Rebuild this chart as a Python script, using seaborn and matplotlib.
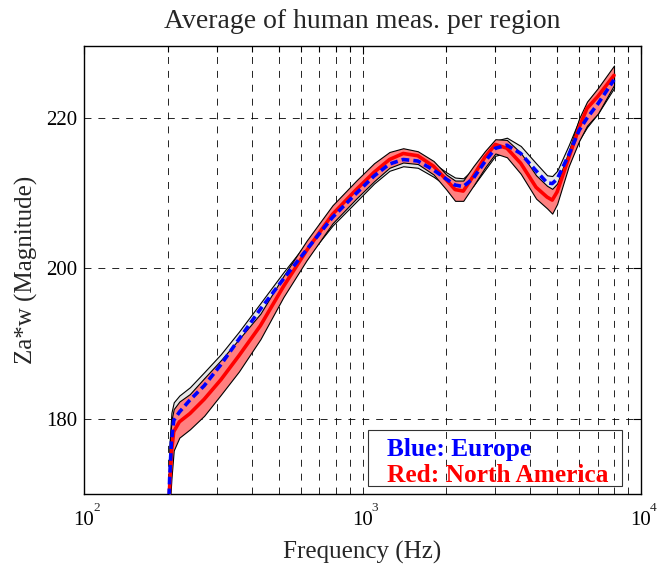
import numpy as np
import pandas as pd
import matplotlib
matplotlib.use("Agg")
import matplotlib.pyplot as plt
import seaborn as sns
from matplotlib.lines import Line2D
from matplotlib.patches import Rectangle
from matplotlib.ticker import FixedLocator, FuncFormatter, NullFormatter
from matplotlib.transforms import blended_transform_factory, offset_copy

# Frequency grid (Hz)
freq_hz = [200, 203, 206, 210, 220, 240, 270, 310, 360, 430, 520, 630, 780, 950,
           1100, 1250, 1400, 1580, 1800, 2000, 2150, 2300, 2500, 2750, 3000, 3300,
           3700, 4200, 4600, 4800, 5000, 5500, 6000, 6400, 7000, 8000]

# Europe: mean and spread
eu_mean = [165, 172, 177, 179.8, 180.9, 182.5, 184.4, 187.2, 190.6, 194.6, 198.6, 202.5,
           206.8, 210.0, 212.3, 213.9, 214.5, 214.3, 213.1, 211.9, 211.1, 210.9, 212.0,
           214.2, 216.0, 216.4, 215.3, 213.0, 211.4, 211.3, 211.9, 215.1, 218.4, 220.0,
           221.9, 225.1]
eu_high = [165, 177, 180.8, 182.2, 183.1, 184.2, 186.2, 188.6, 191.6, 195.4, 199.5, 203.4,
           207.7, 210.9, 213.2, 214.8, 215.4, 215.2, 214.0, 212.8, 212.1, 212.0, 213.2,
           215.3, 217.0, 217.4, 216.3, 214.0, 212.4, 212.3, 213.0, 216.4, 219.8, 221.4,
           223.0, 226.1]
eu_low = [165, 169.5, 174.5, 177.8, 179.0, 180.6, 182.5, 185.6, 189.2, 193.4, 197.5, 201.4,
          205.7, 208.9, 211.3, 213.0, 213.6, 213.4, 212.2, 211.0, 210.2, 210.0, 211.0,
          213.1, 215.0, 215.4, 214.2, 212.0, 210.4, 210.3, 210.8, 213.9, 217.1, 218.8,
          220.6, 224.0]

# North America: mean and spread
na_mean = [165, 171, 175.5, 178.3, 179.6, 180.7, 182.6, 185.2, 188.4, 192.4, 197.6, 202.4,
           207.2, 210.5, 212.8, 214.5, 215.3, 215.0, 213.6, 211.8, 210.5, 210.3, 212.3,
           214.8, 216.5, 216.0, 214.0, 210.8, 209.5, 209.1, 210.2, 214.7, 218.8, 221.3,
           222.9, 225.7]
na_high = [165, 176, 179.8, 181.3, 182.3, 183.3, 185.4, 187.8, 190.6, 194.0, 199.0, 203.7,
           208.4, 211.7, 214.0, 215.5, 216.0, 215.6, 214.3, 212.5, 211.7, 211.7, 213.6,
           215.6, 217.2, 217.1, 215.4, 212.4, 211.0, 210.6, 211.3, 215.6, 220.0, 222.2,
           224.0, 227.0]
na_low = [165, 168, 172, 175.8, 177.5, 178.6, 180.4, 183.2, 186.3, 190.6, 196.2, 201.1,
          206.0, 209.3, 211.6, 213.4, 214.1, 213.9, 212.5, 210.5, 209.0, 209.0, 211.0,
          213.4, 215.3, 214.8, 212.6, 209.3, 208.0, 207.3, 208.6, 213.6, 217.0, 219.0,
          220.6, 224.4]

y_ticks = [180, 200, 220]
x_major = [100, 1000, 10000]
legend_labels = ["Blue: Europe", "Red: North America"]

sns.set_style("white")
plt.rcParams["font.family"] = ["Liberation Serif", "DejaVu Serif"]
plt.rcParams["lines.scale_dashes"] = False

W, H = 659, 568
AX_L, AX_R, AX_T, AX_B = 84, 641, 46, 494
fig = plt.figure(figsize=(W / 100, H / 100), dpi=100)
ax = fig.add_axes([AX_L / W, (H - AX_B) / H, (AX_R - AX_L) / W, (AX_B - AX_T) / H])

df = pd.DataFrame({"freq": freq_hz, "eu": eu_mean, "na": na_mean})

ax.fill_between(freq_hz, eu_low, eu_high, facecolor="#e6e6e6", edgecolor="black",
                linewidth=0.8, zorder=2)
ax.fill_between(freq_hz, na_low, na_high, facecolor="#ff8080", edgecolor="black",
                linewidth=0.8, zorder=3)
sns.lineplot(data=df, x="freq", y="na", ax=ax, color="red", linewidth=2.6, zorder=4)
sns.lineplot(data=df, x="freq", y="eu", ax=ax, color="blue", linewidth=2.6,
             linestyle=(0, (5.5, 3)), zorder=5)

ax.set_xscale("log")
ax.set_xlim(100, 10000)
ax.set_ylim(170, 229.6)
ax.set_yticks(y_ticks)
ax.yaxis.set_minor_locator(FixedLocator([]))
ax.xaxis.set_major_locator(FixedLocator(x_major))
ax.xaxis.set_minor_locator(FixedLocator(
    [m * d for d in (100, 1000) for m in range(2, 10)]))
ax.xaxis.set_minor_formatter(NullFormatter())
ax.xaxis.set_major_formatter(FuncFormatter(lambda v, p: "10"))

grid_kw = dict(color="black", linewidth=0.6, linestyle=(0, (5, 5)))
ax.grid(True, which="both", axis="x", **grid_kw)
ax.grid(True, which="major", axis="y", **grid_kw)
ax.set_axisbelow(True)

ax.tick_params(axis="both", which="both", direction="in", top=True, right=True,
               labelsize=15, colors="black")
ax.tick_params(which="major", length=6, width=0.8, pad=5)
ax.tick_params(axis="x", which="major", pad=12)
ax.tick_params(which="minor", length=4, width=0.8)
for s in ax.spines.values():
    s.set_color("black")
    s.set_linewidth(1.0)

# exponents of the decade labels, raised above and to the right of "10"
trans = blended_transform_factory(ax.transData, ax.transAxes)
for t in x_major:
    ax.text(t, 0, f"{int(round(np.log10(t)))}",
            transform=offset_copy(trans, fig=fig, x=9, y=-8, units="dots"),
            fontsize=9.5, ha="left", va="top")

ax.set_xlabel("Frequency (Hz)", fontsize=18, labelpad=8)
ax.set_ylabel("Za*w (Magnitude)", fontsize=18, labelpad=6)
ax.set_title("Average of human meas. per region", fontsize=20, pad=13)


def to_axes(px, py):
    """Figure pixel position -> axes fraction."""
    return (px - AX_L) / (AX_R - AX_L), (AX_B - py) / (AX_B - AX_T)


# text-only legend inside a thin transparent box
handles = [Line2D([], [], linestyle="none") for _ in legend_labels]
leg = ax.legend(handles, legend_labels, loc="upper left",
                bbox_to_anchor=to_axes(387, 438),
                handlelength=0, handletextpad=0, labelcolor=["blue", "red"],
                prop={"family": "Liberation Serif", "weight": "bold", "size": 18.3},
                frameon=False, borderpad=0, labelspacing=0.1, borderaxespad=0)
bx0, by0 = to_axes(368, 486)
bx1, by1 = to_axes(622, 430)
ax.add_patch(Rectangle((bx0, by0), bx1 - bx0, by1 - by0, transform=ax.transAxes,
                       fill=False, edgecolor="#333333", linewidth=0.8, zorder=6))

fig.savefig("out.png", dpi=100)
